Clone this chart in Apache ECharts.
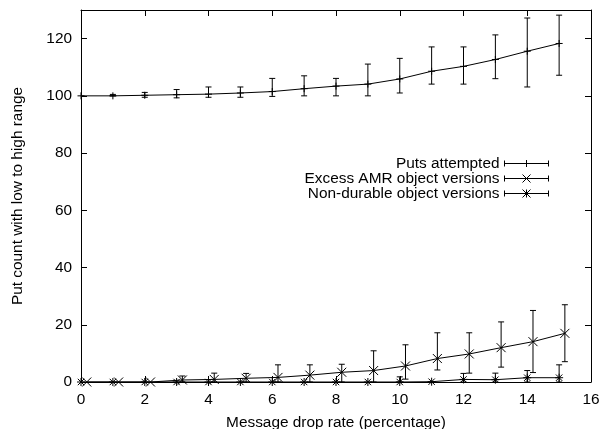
<!DOCTYPE html>
<html>
<head>
<meta charset="utf-8">
<script src="https://cdn.jsdelivr.net/npm/echarts@6/dist/echarts.min.js"></script>
<style>
  html, body { margin: 0; padding: 0; background: #fff; }
  #chart { width: 603px; height: 429px; }
</style>
</head>
<body>
<div id="chart"></div>
<script>
// x ticks / axis values
const xTicks = [0, 2, 4, 6, 8, 10, 12, 14, 16];
const yTicks = [0, 20, 40, 60, 80, 100, 120];

// Puts attempted
const putsX = [0, 1, 2, 3, 4, 5, 6, 7, 8, 9, 10, 11, 12, 13, 14, 15];
const putsY = [100, 100, 100.2, 100.4, 100.6, 101, 101.5, 102.5, 103.4, 104.1, 105.9, 108.6, 110.3, 112.7, 115.6, 118.3];
const putsLow = [100, 100, 99.5, 99.3, 99.5, 99.5, 99.8, 100, 100, 100, 101, 104.1, 104.1, 106, 103.1, 107.2];
const putsHigh = [100, 100.5, 101.2, 102.2, 103.1, 103.1, 106.1, 107, 106.1, 111.1, 113.1, 117.1, 117.1, 121.3, 127.2, 128.2];

// Excess AMR object versions (plotted slightly right of each integer)
const excessX = [0.18, 1.18, 2.18, 3.18, 4.18, 5.18, 6.18, 7.18, 8.18, 9.18, 10.18, 11.18, 12.18, 13.18, 14.18, 15.18];
const excessY = [0, 0, 0, 0.7, 0.9, 1.3, 1.6, 2.4, 3.4, 4, 5.6, 8.2, 9.8, 12, 14.1, 17];
const excessLow = [0, 0, 0, 0, 0, 0, 0, 0, 0, 0, 1, 4.2, 3.1, 5.2, 3.3, 7.1];
const excessHigh = [0, 0, 0, 2.1, 3.1, 3, 6, 6, 6.2, 10.9, 13, 17.2, 17.2, 21, 25, 27];

// Non-durable object versions
const nondurX = [0, 1, 2, 3, 4, 5, 6, 7, 8, 9, 10, 11, 12, 13, 14, 15];
const nondurY = [0, 0, 0, 0, 0, 0, 0, 0, 0, 0, 0, 0.1, 0.9, 0.8, 1.5, 1.5];
const nondurLow = [0, 0, 0, 0, 0, 0, 0, 0, 0, 0, 0, 0, 0, 0, 0, 0];
const nondurHigh = [0, 0, 0, 0, 0, 0, 0, 0, 0, 0, 1.8, 0, 3, 3.1, 4, 6];

const names = ['Puts attempted', 'Excess AMR object versions', 'Non-durable object versions'];

const FONT = "'Liberation Sans', Arial, Helvetica, sans-serif";
const FS = 15.4;
const plusSym = 'path://M0,5L10,5M5,0L5,10';
const crossSym = 'path://M0,0L10,10M10,0L0,10';
const starSym = 'path://M0,5L10,5M5,0L5,10M1,1L9,9M9,1L1,9';

const legPlus = 'path://M0,1L0,7M0,4L44,4M44,1L44,7M22,0.5L22,7.5M18.5,4L25.5,4M0,0L0,0M0,8L0,8';
const legCross = 'path://M0,1L0,7M0,4L44,4M44,1L44,7M18,0L26,8M26,0L18,8';
const legStar = 'path://M0,1L0,7M0,4L44,4M44,1L44,7M18,0L26,8M26,0L18,8M22,0L22,8';

function pairs(xs, ys) {
    return xs.map((x, i) => [x, ys[i]]);
}
function bars(xs, lo, hi) {
    return xs.map((x, i) => [x, lo[i], hi[i]]);
}

function renderBar(params, api) {
    const x = api.value(0), lo = api.value(1), hi = api.value(2);
    if (hi - lo < 0.01) return null;
    const p1 = api.coord([x, lo]);
    const p2 = api.coord([x, hi]);
    const w = 3;
    const st = { stroke: '#000', lineWidth: 1, fill: null };
    return {
        type: 'group',
        children: [
            { type: 'line', shape: { x1: p1[0], y1: p1[1], x2: p2[0], y2: p2[1] }, style: st },
            { type: 'line', shape: { x1: p1[0] - w, y1: p1[1], x2: p1[0] + w, y2: p1[1] }, style: st },
            { type: 'line', shape: { x1: p2[0] - w, y1: p2[1], x2: p2[0] + w, y2: p2[1] }, style: st }
        ]
    };
}

function lineSeries(name, data, sym, size) {
    return {
        name: name,
        type: 'line',
        data: data,
        symbol: sym,
        symbolSize: size,
        showSymbol: true,
        itemStyle: { color: '#000', borderColor: '#000', borderWidth: 1 },
        lineStyle: { color: '#000', width: 1 },
        z: 3
    };
}

function barSeries(name, data) {
    return {
        name: name,
        type: 'custom',
        renderItem: renderBar,
        data: data,
        encode: { x: 0, y: [1, 2] },
        z: 2
    };
}

const chart = echarts.init(document.getElementById('chart'));

const axisCommon = {
    axisLine: { show: true, onZero: false, lineStyle: { color: '#000', width: 1 } },
    axisTick: { show: true, inside: true, length: 6, lineStyle: { color: '#000' } },
    splitLine: { show: false }
};

chart.setOption({
    animation: false,
    backgroundColor: '#fff',
    textStyle: { fontFamily: FONT },
    grid: { left: 81, right: 12, top: 10, bottom: 47, containLabel: false, outerBoundsMode: 'none' },
    legend: {
        orient: 'vertical',
        align: 'right',
        right: 49,
        top: 151,
        itemWidth: 44,
        itemHeight: 8,
        itemGap: 0,
        data: [
            { name: names[0], icon: legPlus },
            { name: names[1], icon: legCross },
            { name: names[2], icon: legStar }
        ],
        itemStyle: { color: '#000', borderColor: '#000', borderWidth: 1 },
        textStyle: { fontFamily: FONT, fontSize: FS, color: '#000', lineHeight: 15, padding: [0, 0, 0, 0] },
        selectedMode: false
    },
    xAxis: [
        Object.assign({
            type: 'value', min: 0, max: 16, interval: 2, position: 'bottom',
            name: 'Message drop rate (percentage)', nameLocation: 'middle', nameGap: 33,
            nameTextStyle: { fontFamily: FONT, fontSize: FS, color: '#000' },
            axisLabel: { fontFamily: FONT, fontSize: FS, color: '#000', margin: 10 }
        }, axisCommon),
        Object.assign({
            type: 'value', min: 0, max: 16, interval: 2, position: 'top',
            axisLabel: { show: false }
        }, axisCommon)
    ],
    yAxis: [
        Object.assign({
            type: 'value', min: 0, max: 130, interval: 20, position: 'left',
            name: 'Put count with low to high range', nameLocation: 'middle', nameGap: 56,
            nameTextStyle: { fontFamily: FONT, fontSize: FS, color: '#000' },
            axisLabel: {
                fontFamily: FONT, fontSize: FS, color: '#000', margin: 9,
                formatter: v => (yTicks.indexOf(v) >= 0 ? String(v) : '')
            }
        }, axisCommon),
        Object.assign({
            type: 'value', min: 0, max: 130, interval: 20, position: 'right',
            axisLabel: { show: false }
        }, axisCommon)
    ],
    series: [
        barSeries(names[0], bars(putsX, putsLow, putsHigh)),
        lineSeries(names[0], pairs(putsX, putsY), plusSym, 7),
        barSeries(names[1], bars(excessX, excessLow, excessHigh)),
        lineSeries(names[1], pairs(excessX, excessY), crossSym, 9),
        barSeries(names[2], bars(nondurX, nondurLow, nondurHigh)),
        lineSeries(names[2], pairs(nondurX, nondurY), starSym, 8)
    ]
});
</script>
</body>
</html>
